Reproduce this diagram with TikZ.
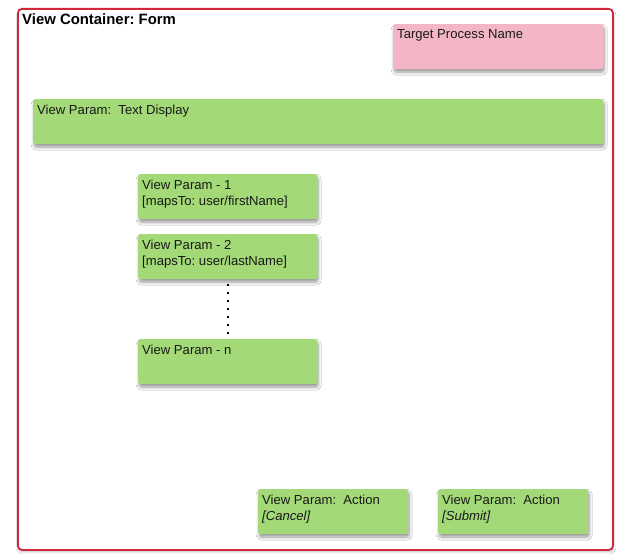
\documentclass[tikz,border=0pt]{standalone}
\usepackage{fontspec}
\setmainfont{Liberation Sans}
\usetikzlibrary{shadows,shadows.blur}
\definecolor{boxgreen}{RGB}{163,217,119}
\definecolor{boxpink}{RGB}{244,182,199}
\definecolor{framered}{RGB}{208,40,58}
\tikzset{
  x=1pt, y=-1pt,
  shadowed/.style={blur shadow={shadow xshift=1pt, shadow yshift=-3pt, shadow blur radius=3pt, shadow blur steps=8, shadow opacity=40}},
  card/.style={shadowed, rounded corners=2.5pt, draw=none, inner sep=0pt, anchor=north west},
  greencard/.style={card, fill=boxgreen},
  pinkcard/.style={card, fill=boxpink},
  cardtext/.style={anchor=north west, inner xsep=4pt, inner ysep=5.5pt, align=left, font=\frenchspacing\fontsize{13.1}{16.2}\selectfont, text=black!90},
}
\newcommand{\card}[6]{% style, name, x1, y1, x2, y2
  \node[#1, minimum width=#5pt-#3pt, minimum height=#6pt-#4pt] (#2) at (#3,#4) {};}
\begin{document}
\begin{tikzpicture}
\useasboundingbox (0,0) rectangle (631,559);
\fill[white] (0,0) rectangle (631,559);
% outer frame
\node[anchor=north west, minimum width=595pt, minimum height=541pt, draw=framered, line width=1.8pt, rounded corners=4pt, fill=white, blur shadow={shadow xshift=1pt, shadow yshift=-2pt, shadow blur radius=2pt, shadow opacity=25}, inner sep=0pt] (frame) at (17,8) {};
\node[anchor=north west, inner sep=0pt, font=\frenchspacing\bfseries\fontsize{14.9}{17}\selectfont] (title) at (22,13.5) {View Container: Form};
% cards
\card{pinkcard}{target}{393}{24}{603}{69}
\node[cardtext] (targett) at (target.north west) {Target Process Name};
\card{greencard}{textdisp}{33}{99}{603}{144}
\node[cardtext] (textdispt) at (textdisp.north west) {View Param:\ \ Text Display};
\card{greencard}{vpa}{138}{174}{317}{219}
\node[cardtext] (vpat) at (vpa.north west) {View Param - 1\\{}[mapsTo: user/firstName]};
\card{greencard}{vpb}{138}{234}{317}{279}
\node[cardtext] (vpbt) at (vpb.north west) {View Param - 2\\{}[mapsTo: user/lastName]};
\card{greencard}{vpn}{138}{339}{317}{384}
\node[cardtext] (vpnt) at (vpn.north west) {View Param - n};
\card{greencard}{cancel}{258}{489}{408}{534}
\node[cardtext] (cancelt) at (cancel.north west) {View Param:\ \ Action\\\textit{[Cancel]}};
\card{greencard}{submit}{438}{489}{588}{534}
\node[cardtext] (submitt) at (submit.north west) {View Param:\ \ Action\\\textit{[Submit]}};
% dotted connector
\draw[line width=1.8pt, dash pattern=on 1.8pt off 6.2pt, shorten <=5pt, shorten >=5pt] (vpb.south) -- (vpn.north);
\end{tikzpicture}
\end{document}
